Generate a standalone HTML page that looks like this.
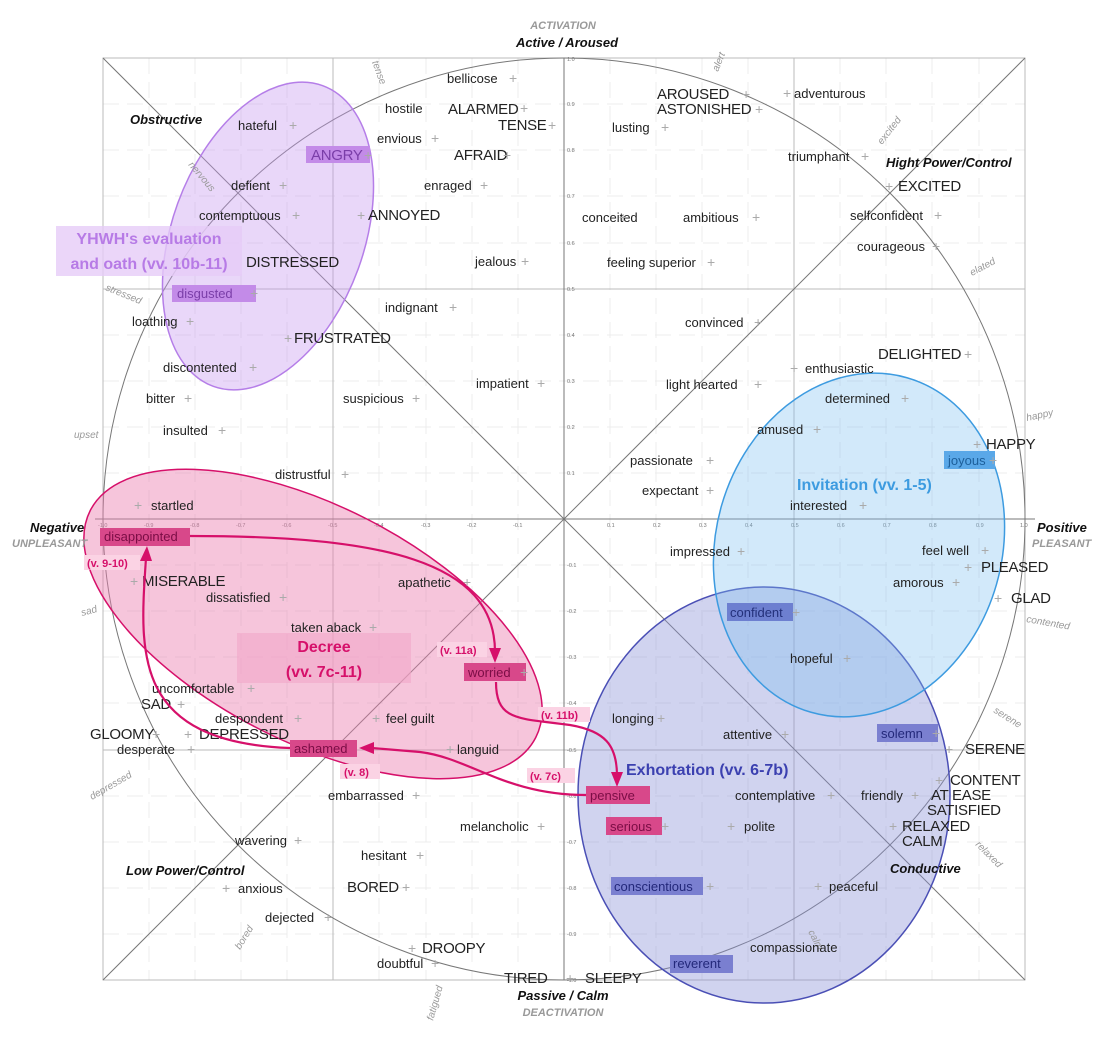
<!DOCTYPE html>
<html><head><meta charset="utf-8">
<style>
html,body{margin:0;padding:0;background:#fff;}
svg{display:block;font-family:"Liberation Sans",sans-serif;}
.w{font-size:13px;fill:#222;}
.c{font-size:15px;fill:#222;letter-spacing:-0.3px;}
.p{font-size:14px;fill:#aaa;}
.g{font-size:10px;fill:#999;font-style:italic;}
.b{font-size:13px;font-weight:bold;font-style:italic;fill:#111;}
.t{font-size:5.5px;fill:#777;}
.v{font-size:11px;font-weight:bold;fill:#d6106a;}
</style></head><body>
<svg width="1110" height="1049" viewBox="0 0 1110 1049" xmlns="http://www.w3.org/2000/svg">
<rect x="0" y="0" width="1110" height="1049" fill="#fff"/>
<g stroke="#ececec" stroke-width="1" stroke-dasharray="16 8">
<line x1="149" y1="58" x2="149" y2="980"/><line x1="195" y1="58" x2="195" y2="980"/><line x1="241" y1="58" x2="241" y2="980"/><line x1="287" y1="58" x2="287" y2="980"/><line x1="379" y1="58" x2="379" y2="980"/><line x1="426" y1="58" x2="426" y2="980"/><line x1="472" y1="58" x2="472" y2="980"/><line x1="518" y1="58" x2="518" y2="980"/>
<line x1="610" y1="58" x2="610" y2="980"/><line x1="656" y1="58" x2="656" y2="980"/><line x1="702" y1="58" x2="702" y2="980"/><line x1="748" y1="58" x2="748" y2="980"/><line x1="840" y1="58" x2="840" y2="980"/><line x1="886" y1="58" x2="886" y2="980"/><line x1="932" y1="58" x2="932" y2="980"/><line x1="979" y1="58" x2="979" y2="980"/>
<line x1="103" y1="104" x2="1025" y2="104"/><line x1="103" y1="150" x2="1025" y2="150"/><line x1="103" y1="196" x2="1025" y2="196"/><line x1="103" y1="243" x2="1025" y2="243"/><line x1="103" y1="335" x2="1025" y2="335"/><line x1="103" y1="381" x2="1025" y2="381"/><line x1="103" y1="427" x2="1025" y2="427"/><line x1="103" y1="473" x2="1025" y2="473"/>
<line x1="103" y1="565" x2="1025" y2="565"/><line x1="103" y1="611" x2="1025" y2="611"/><line x1="103" y1="657" x2="1025" y2="657"/><line x1="103" y1="703" x2="1025" y2="703"/><line x1="103" y1="796" x2="1025" y2="796"/><line x1="103" y1="842" x2="1025" y2="842"/><line x1="103" y1="888" x2="1025" y2="888"/><line x1="103" y1="934" x2="1025" y2="934"/>
</g>
<g stroke="#bbb" stroke-width="1" fill="none">
<rect x="103" y="58" width="922" height="922"/>
<line x1="333" y1="58" x2="333" y2="980"/><line x1="794" y1="58" x2="794" y2="980"/>
<line x1="103" y1="289" x2="1025" y2="289"/><line x1="103" y1="750" x2="1025" y2="750"/>
</g>
<g stroke="#777" stroke-width="1" fill="none">
<line x1="564" y1="58" x2="564" y2="980"/><line x1="95" y1="519" x2="1035" y2="519"/>
<line x1="103" y1="58" x2="1025" y2="980"/><line x1="1025" y1="58" x2="103" y2="980"/>
<circle cx="564" cy="519" r="461"/>
</g>
<g class="t">
<text x="98" y="527">-1.0</text><text x="144" y="527">-0.9</text><text x="190" y="527">-0.8</text><text x="236" y="527">-0.7</text><text x="282" y="527">-0.6</text><text x="328" y="527">-0.5</text><text x="374" y="527">-0.4</text><text x="421" y="527">-0.3</text><text x="467" y="527">-0.2</text><text x="513" y="527">-0.1</text>
<text x="607" y="527">0.1</text><text x="653" y="527">0.2</text><text x="699" y="527">0.3</text><text x="745" y="527">0.4</text><text x="791" y="527">0.5</text><text x="837" y="527">0.6</text><text x="883" y="527">0.7</text><text x="929" y="527">0.8</text><text x="976" y="527">0.9</text><text x="1020" y="527">1.0</text>
<text x="567" y="61">1.0</text><text x="567" y="106">0.9</text><text x="567" y="152">0.8</text><text x="567" y="198">0.7</text><text x="567" y="245">0.6</text><text x="567" y="291">0.5</text><text x="567" y="337">0.4</text><text x="567" y="383">0.3</text><text x="567" y="429">0.2</text><text x="567" y="475">0.1</text>
<text x="567" y="567">-0.1</text><text x="567" y="613">-0.2</text><text x="567" y="659">-0.3</text><text x="567" y="705">-0.4</text><text x="567" y="752">-0.5</text><text x="567" y="798">-0.6</text><text x="567" y="844">-0.7</text><text x="567" y="890">-0.8</text><text x="567" y="936">-0.9</text><text x="567" y="982">-1.0</text>
</g>
<ellipse cx="268" cy="236" rx="96" ry="160" transform="rotate(20 268 236)" fill="#c99af0" fill-opacity="0.4" stroke="#b57ee8" stroke-width="1.5"/>
<ellipse cx="313" cy="624" rx="250" ry="118" transform="rotate(27 313 624)" fill="#ec7fb0" fill-opacity="0.45" stroke="#d6106a" stroke-width="1.5"/>
<ellipse cx="764" cy="795" rx="186" ry="208" fill="#8a90d8" fill-opacity="0.4" stroke="#4a4fb5" stroke-width="1.5"/>
<ellipse cx="859" cy="545" rx="143" ry="174" transform="rotate(16 859 545)" fill="#7fbff0" fill-opacity="0.35" stroke="#3d9be0" stroke-width="1.5"/>
<rect x="56" y="226" width="186" height="50" fill="#e6ccf8" fill-opacity="0.8"/>
<rect x="237" y="633" width="174" height="50" fill="#f2a6c8" fill-opacity="0.6"/>
<rect x="306" y="146" width="64" height="17" fill="#c38be8"/>
<rect x="172" y="285" width="84" height="17" fill="#c38be8"/>
<rect x="100" y="528" width="90" height="18" fill="#d8488a"/>
<rect x="464" y="663" width="62" height="18" fill="#d8488a"/>
<rect x="290" y="740" width="67" height="17" fill="#d8488a"/>
<rect x="586" y="786" width="64" height="18" fill="#d8488a"/>
<rect x="606" y="817" width="56" height="18" fill="#d8488a"/>
<rect x="944" y="451" width="51" height="18" fill="#5aa8e8"/>
<rect x="727" y="603" width="66" height="18" fill="#6d7fd0"/>
<rect x="877" y="724" width="61" height="18" fill="#7a7fd0"/>
<rect x="611" y="877" width="92" height="18" fill="#7a7fd0"/>
<rect x="670" y="955" width="63" height="18" fill="#7a7fd0"/>
<g fill="#fbd3e4"><rect x="84" y="555" width="56" height="15"/><rect x="437" y="642" width="50" height="15"/><rect x="538" y="707" width="52" height="15"/><rect x="340" y="764" width="40" height="15"/><rect x="527" y="768" width="48" height="15"/></g>
<g class="g">
<text transform="translate(372,62) rotate(70)">tense</text>
<text transform="translate(718,72) rotate(-68)">alert</text>
<text transform="translate(882,145) rotate(-52)">excited</text>
<text transform="translate(972,276) rotate(-28)">elated</text>
<text transform="translate(1027,421) rotate(-12)">happy</text>
<text transform="translate(1026,622) rotate(10)">contented</text>
<text transform="translate(993,712) rotate(32)">serene</text>
<text transform="translate(975,845) rotate(45)">relaxed</text>
<text transform="translate(808,932) rotate(62)">calm</text>
<text transform="translate(433,1021) rotate(-74)">fatigued</text>
<text transform="translate(240,950) rotate(-58)">bored</text>
<text transform="translate(92,800) rotate(-30)">depressed</text>
<text transform="translate(82,616) rotate(-15)">sad</text>
<text transform="translate(74,438)">upset</text>
<text transform="translate(105,290) rotate(22)">stressed</text>
<text transform="translate(188,165) rotate(50)">nervous</text>
</g>
<text x="563" y="29" text-anchor="middle" style="font-size:11px;font-weight:bold;font-style:italic;fill:#999">ACTIVATION</text>
<text x="567" y="47" text-anchor="middle" class="b">Active / Aroused</text>
<text x="563" y="1000" text-anchor="middle" class="b">Passive / Calm</text>
<text x="563" y="1016" text-anchor="middle" style="font-size:11px;font-weight:bold;font-style:italic;fill:#999">DEACTIVATION</text>
<text x="30" y="532" class="b">Negative</text>
<text x="12" y="547" style="font-size:11px;font-weight:bold;font-style:italic;fill:#999">UNPLEASANT</text>
<text x="1037" y="532" class="b">Positive</text>
<text x="1032" y="547" style="font-size:11px;font-weight:bold;font-style:italic;fill:#999">PLEASANT</text>
<text x="130" y="124" class="b">Obstructive</text>
<text x="886" y="167" class="b">Hight Power/Control</text>
<text x="890" y="873" class="b">Conductive</text>
<text x="126" y="875" class="b">Low Power/Control</text>
<g class="w">
<text x="447" y="83">bellicose</text><text x="385" y="113">hostile</text><text x="238" y="130">hateful</text><text x="377" y="143">envious</text>
<text x="231" y="190">defient</text><text x="424" y="190">enraged</text><text x="199" y="220">contemptuous</text><text x="475" y="266">jealous</text>
<text x="177" y="298" fill="#7a3ea8">disgusted</text><text x="385" y="312">indignant</text><text x="132" y="326">loathing</text>
<text x="163" y="372">discontented</text><text x="476" y="388">impatient</text><text x="146" y="403">bitter</text><text x="343" y="403">suspicious</text>
<text x="163" y="435">insulted</text><text x="275" y="479">distrustful</text><text x="151" y="510">startled</text>
<text x="794" y="98">adventurous</text><text x="612" y="132">lusting</text><text x="788" y="161">triumphant</text>
<text x="582" y="222">conceited</text><text x="683" y="222">ambitious</text><text x="850" y="220">selfconfident</text><text x="857" y="251">courageous</text>
<text x="607" y="267">feeling superior</text><text x="685" y="327">convinced</text><text x="805" y="373">enthusiastic</text><text x="666" y="389">light hearted</text>
<text x="825" y="403">determined</text><text x="757" y="434">amused</text><text x="630" y="465">passionate</text><text x="948" y="465" fill="#1d5f9a">joyous</text>
<text x="642" y="495">expectant</text><text x="790" y="510">interested</text>
<text x="670" y="556">impressed</text><text x="922" y="555">feel well</text><text x="893" y="587">amorous</text><text x="730" y="617" fill="#23307a">confident</text>
<text x="790" y="663">hopeful</text><text x="612" y="723">longing</text><text x="723" y="739">attentive</text><text x="881" y="738" fill="#23287a">solemn</text>
<text x="590" y="800" fill="#7a0d45">pensive</text><text x="735" y="800">contemplative</text><text x="861" y="800">friendly</text>
<text x="610" y="831" fill="#7a0d45">serious</text><text x="744" y="831">polite</text><text x="614" y="891" fill="#23287a">conscientious</text><text x="829" y="891">peaceful</text>
<text x="750" y="952">compassionate</text><text x="673" y="968" fill="#23287a">reverent</text>
<text x="104" y="541" fill="#7a0d45">disappointed</text><text x="398" y="587">apathetic</text><text x="206" y="602">dissatisfied</text><text x="291" y="632">taken aback</text>
<text x="468" y="677" fill="#7a0d45">worried</text><text x="152" y="693">uncomfortable</text><text x="215" y="723">despondent</text><text x="386" y="723">feel guilt</text>
<text x="117" y="754">desperate</text><text x="294" y="753" fill="#7a0d45">ashamed</text><text x="457" y="754">languid</text><text x="328" y="800">embarrassed</text>
<text x="460" y="831">melancholic</text><text x="235" y="845">wavering</text><text x="361" y="860">hesitant</text><text x="238" y="893">anxious</text>
<text x="265" y="922">dejected</text><text x="377" y="968">doubtful</text>
</g>
<g class="c">
<text x="448" y="114">ALARMED</text><text x="498" y="130">TENSE</text><text x="311" y="160" fill="#7a3ea8">ANGRY</text><text x="454" y="160">AFRAID</text>
<text x="368" y="220">ANNOYED</text><text x="246" y="267">DISTRESSED</text><text x="294" y="343">FRUSTRATED</text>
<text x="657" y="99">AROUSED</text><text x="657" y="114">ASTONISHED</text><text x="898" y="191">EXCITED</text><text x="878" y="359">DELIGHTED</text>
<text x="986" y="449">HAPPY</text><text x="981" y="572">PLEASED</text><text x="1011" y="603">GLAD</text><text x="965" y="754">SERENE</text>
<text x="950" y="785">CONTENT</text><text x="931" y="800">AT EASE</text><text x="927" y="815">SATISFIED</text><text x="902" y="831">RELAXED</text><text x="902" y="846">CALM</text>
<text x="585" y="983">SLEEPY</text><text x="504" y="983">TIRED</text>
<text x="142" y="586">MISERABLE</text><text x="141" y="709">SAD</text><text x="90" y="739">GLOOMY</text><text x="199" y="739">DEPRESSED</text>
<text x="347" y="892">BORED</text><text x="422" y="953">DROOPY</text>
</g>
<g class="p">
<text x="509" y="83">+</text><text x="520" y="113">+</text><text x="548" y="130">+</text><text x="289" y="130">+</text><text x="431" y="143">+</text><text x="364" y="160">+</text><text x="503" y="160">+</text>
<text x="279" y="190">+</text><text x="480" y="190">+</text><text x="292" y="220">+</text><text x="357" y="220">+</text><text x="521" y="266">+</text><text x="250" y="298">+</text>
<text x="449" y="312">+</text><text x="186" y="326">+</text><text x="284" y="343">+</text><text x="249" y="372">+</text><text x="537" y="388">+</text><text x="184" y="403">+</text>
<text x="412" y="403">+</text><text x="218" y="435">+</text><text x="341" y="479">+</text><text x="134" y="510">+</text>
<text x="742" y="99">+</text><text x="755" y="114">+</text><text x="783" y="98">+</text><text x="661" y="132">+</text><text x="861" y="161">+</text><text x="885" y="191">+</text>
<text x="619" y="222">+</text><text x="752" y="222">+</text><text x="934" y="220">+</text><text x="932" y="251">+</text><text x="707" y="267">+</text><text x="754" y="327">+</text>
<text x="964" y="359">+</text><text x="790" y="373">+</text><text x="754" y="389">+</text><text x="901" y="403">+</text><text x="813" y="434">+</text><text x="973" y="449">+</text>
<text x="706" y="465">+</text><text x="989" y="465">+</text><text x="706" y="495">+</text><text x="859" y="510">+</text><text x="737" y="556">+</text><text x="981" y="555">+</text>
<text x="964" y="572">+</text><text x="952" y="587">+</text><text x="994" y="603">+</text><text x="792" y="617">+</text><text x="843" y="663">+</text><text x="657" y="723">+</text>
<text x="781" y="739">+</text><text x="932" y="738">+</text><text x="945" y="754">+</text><text x="935" y="785">+</text><text x="827" y="800">+</text><text x="911" y="800">+</text>
<text x="889" y="831">+</text><text x="661" y="831">+</text><text x="727" y="831">+</text><text x="706" y="891">+</text><text x="814" y="891">+</text><text x="566" y="983">+</text>
<text x="130" y="586">+</text><text x="463" y="587">+</text><text x="279" y="602">+</text><text x="369" y="632">+</text><text x="520" y="677">+</text><text x="247" y="693">+</text>
<text x="177" y="709">+</text><text x="294" y="723">+</text><text x="372" y="723">+</text><text x="152" y="739">+</text><text x="184" y="739">+</text><text x="187" y="754">+</text>
<text x="446" y="754">+</text><text x="412" y="800">+</text><text x="537" y="831">+</text><text x="294" y="845">+</text><text x="416" y="860">+</text><text x="222" y="893">+</text>
<text x="324" y="922">+</text><text x="402" y="892">+</text><text x="408" y="953">+</text><text x="431" y="968">+</text>
</g>
<text x="149" y="244" text-anchor="middle" style="font-size:16px;font-weight:bold;fill:#b77be6">YHWH's evaluation</text>
<text x="149" y="269" text-anchor="middle" style="font-size:16px;font-weight:bold;fill:#b77be6">and oath (vv. 10b-11)</text>
<text x="324" y="652" text-anchor="middle" style="font-size:16px;font-weight:bold;fill:#d6106a">Decree</text>
<text x="324" y="677" text-anchor="middle" style="font-size:16px;font-weight:bold;fill:#d6106a">(vv. 7c-11)</text>
<text x="797" y="490" style="font-size:16px;font-weight:bold;fill:#3d9be0">Invitation (vv. 1-5)</text>
<text x="626" y="775" style="font-size:16px;font-weight:bold;fill:#3b40b0">Exhortation (vv. 6-7b)</text>
<text x="87" y="567" class="v">(v. 9-10)</text>
<text x="440" y="654" class="v">(v. 11a)</text>
<text x="541" y="719" class="v">(v. 11b)</text>
<text x="344" y="776" class="v">(v. 8)</text>
<text x="530" y="780" class="v">(v. 7c)</text>
<g stroke="#d6106a" stroke-width="2.2" fill="none">
<path d="M190,536 C380,536 495,560 495,652"/>
<path d="M496,682 C496,722 520,718 570,725 C605,731 617,745 617,776"/>
<path d="M586,795 C505,795 470,758 420,752 L372,748"/>
<path d="M290,748 C130,742 140,650 146,558"/>
</g>
<g fill="#d6106a">
<polygon points="489,648 501,648 495,663"/>
<polygon points="611,772 623,772 617,787"/>
<polygon points="374,742 374,754 359,748"/>
<polygon points="140,561 152,561 147,546"/>
</g>
</svg>
</body></html>
